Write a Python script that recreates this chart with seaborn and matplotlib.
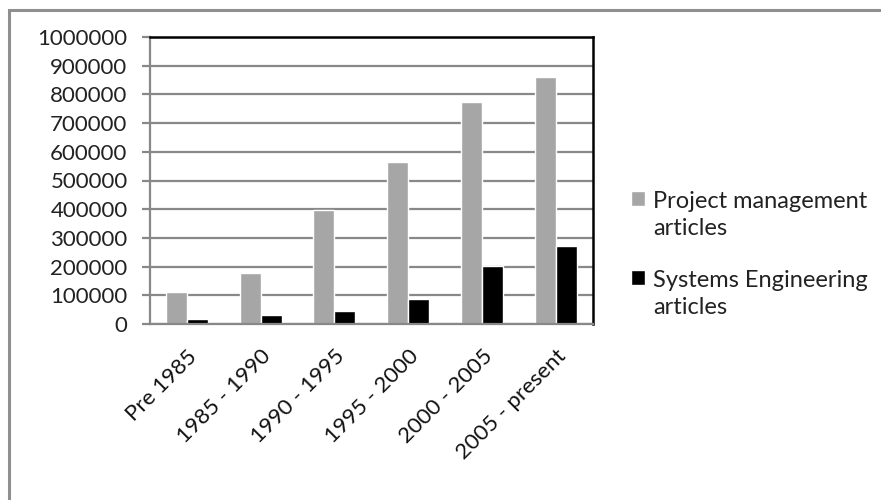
import numpy as np
import pandas as pd
import matplotlib
matplotlib.use("Agg")
import matplotlib.pyplot as plt
from matplotlib.patches import Rectangle
from matplotlib.legend_handler import HandlerPatch
import seaborn as sns

# chart data
periods = ["Pre 1985", "1985 - 1990", "1990 - 1995", "1995 - 2000", "2000 - 2005", "2005 - present"]
pm_articles = [113000, 177000, 398000, 566000, 772000, 860000]
se_articles = [19000, 30000, 45000, 88000, 203000, 272000]
series_names = ["Project management\narticles", "Systems Engineering\narticles"]
y_ticks = list(range(0, 1000001, 100000))

df = pd.DataFrame({
    "period": periods * 2,
    "count": pm_articles + se_articles,
    "series": [series_names[0]] * len(periods) + [series_names[1]] * len(periods),
})

sns.set_style("white")
plt.rcParams["font.family"] = ["Lato", "DejaVu Sans"]

fig = plt.figure(figsize=(8.81, 5.0), dpi=100)
ax = fig.add_axes([0.170, 0.352, 0.503, 0.574])

sns.barplot(data=df, x="period", y="count", hue="series", order=periods,
            hue_order=series_names, palette=["#a6a6a6", "#000000"],
            width=0.57, gap=0, saturation=1, ax=ax, legend=True)

ax.set_ylim(0, 1000000)
ax.set_xlim(-0.5, len(periods) - 0.5)
ax.set_yticks(y_ticks)
ax.set_yticklabels([str(v) for v in y_ticks], fontsize=16, color="#222222")
ax.set_xlabel("")
ax.set_ylabel("")

# gridlines
ax.set_axisbelow(True)
ax.yaxis.grid(True, color="#888888", linewidth=1.6)

# x ticks: labels at centers, tick marks at category boundaries
ax.set_xticks(range(len(periods)))
ax.set_xticklabels(periods, rotation=45, ha="right", rotation_mode="anchor",
                   fontsize=16, color="#111111")
ax.tick_params(axis="x", which="major", length=0, pad=16)
ax.set_xticks(np.arange(-0.5, len(periods), 1.0), minor=True)
ax.tick_params(axis="x", which="minor", length=6, width=1.6, color="#888888", direction="out")
ax.tick_params(axis="y", length=6, width=1.6, color="#888888", direction="out", left=True, pad=10)

for side in ["left", "bottom"]:
    ax.spines[side].set_color("#888888")
    ax.spines[side].set_linewidth(1.6)
for side in ["top", "right"]:
    ax.spines[side].set_color("#000000")
    ax.spines[side].set_linewidth(1.8)
    ax.spines[side].set_visible(True)


# legend square sits next to the first line of each label
def top_square(legend, orig_handle, xdescent, ydescent, width, height, fontsize):
    return Rectangle((-xdescent, -ydescent + 0.7 * fontsize), width, height)


leg = ax.legend(loc="upper left", bbox_to_anchor=(0.705, 0.637), bbox_transform=fig.transFigure,
                frameon=False, fontsize=17, handlelength=0.6, handleheight=0.6,
                handletextpad=0.35, labelspacing=1.3, borderaxespad=0,
                handler_map={matplotlib.patches.Rectangle: HandlerPatch(patch_func=top_square)})
for t in leg.get_texts():
    t.set_color("#222222")
    t.set_linespacing(1.35)

# outer chart frame
fig.add_artist(Rectangle((0.0105, -0.2), 1.5, 1.18, transform=fig.transFigure,
                         fill=False, edgecolor="#8f8f8f", linewidth=2.2, clip_on=False))

fig.savefig("out.png", dpi=100, facecolor="white")
